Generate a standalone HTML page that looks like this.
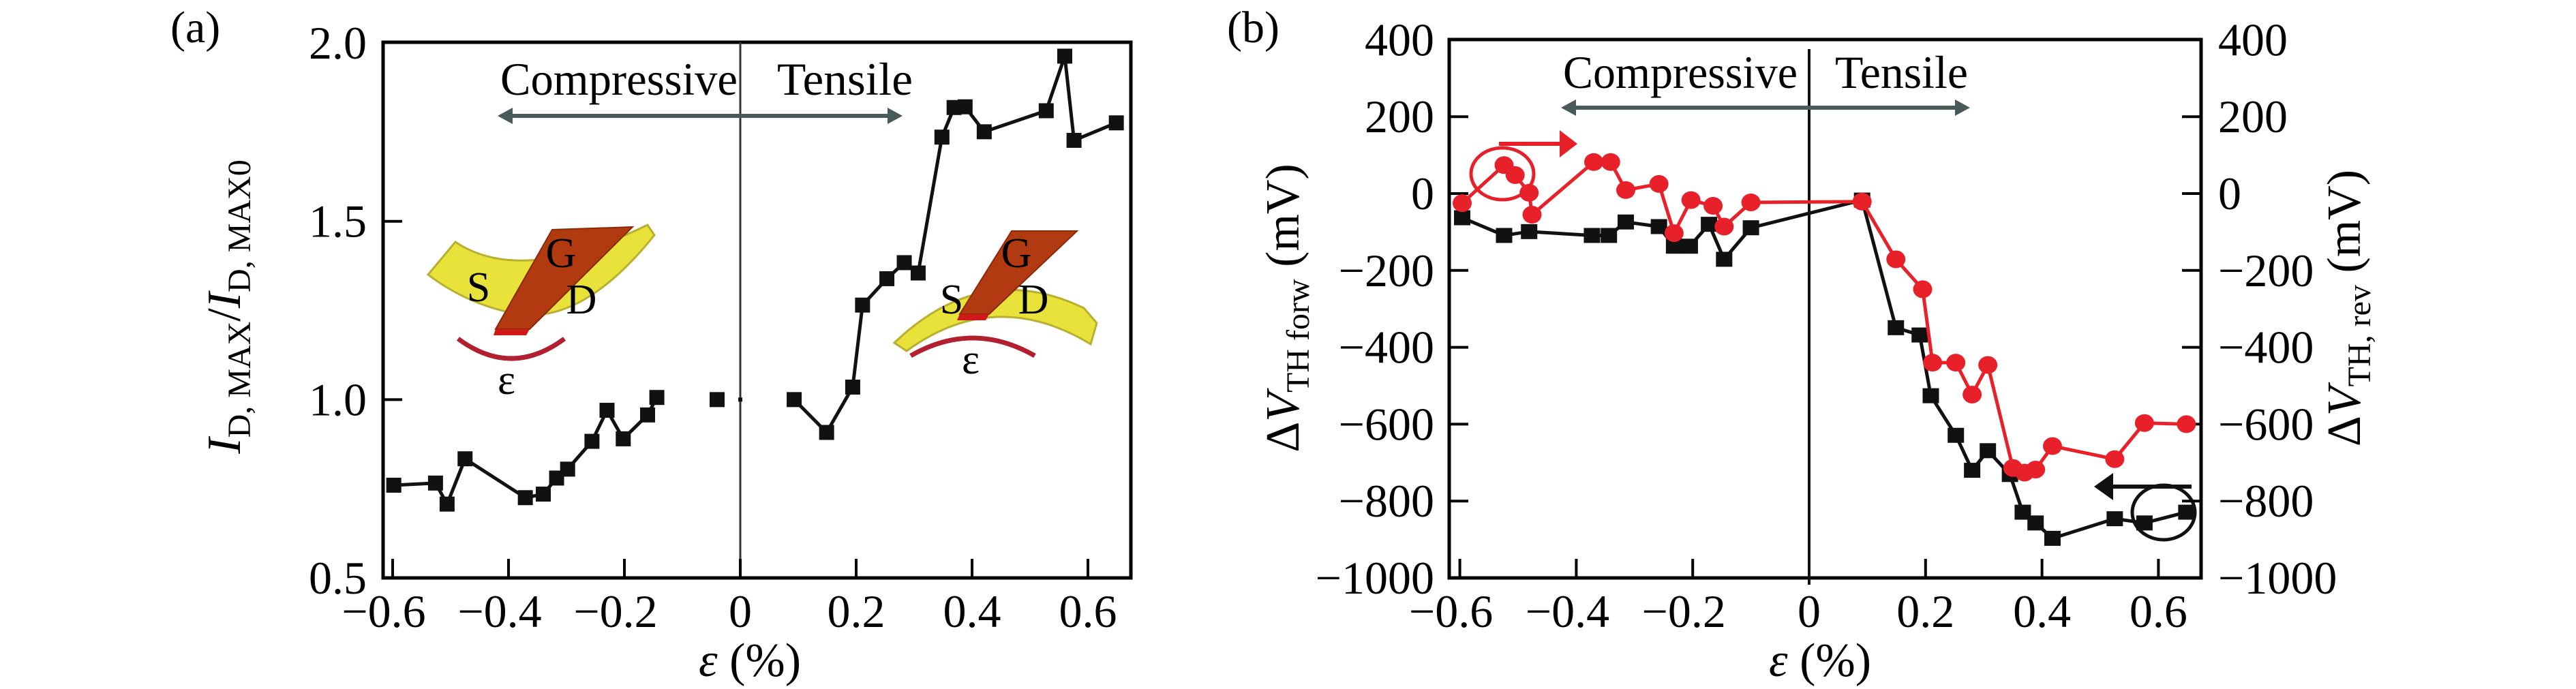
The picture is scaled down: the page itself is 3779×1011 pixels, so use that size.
<!DOCTYPE html>
<html><head><meta charset="utf-8"><style>
html,body{margin:0;padding:0;background:#fff;}
svg{display:block;font-family:"Liberation Serif",serif;}
</style></head><body>
<svg id="fig" width="3779" height="1011" viewBox="0 0 3779 1011" xmlns="http://www.w3.org/2000/svg">
<rect width="3779" height="1011" fill="#fff"/>

<g id="panelA">
<text x="250" y="62" font-size="66">(a)</text>
<g>
<path d="M668,355 Q765,420 950,330 L960,345 Q860,470 767,462 Q690,450 628,403 Z" fill="#e8e23a" stroke="#b8b030" stroke-width="3"/>
<path d="M810,337 L928,333 L777,483 L727,483 Z" fill="#b23a10" stroke="#8a2a08" stroke-width="2"/>
<path d="M727,483 L777,483 L772,492 L724,492 Z" fill="#d01818"/>
<path d="M672,497 Q750,555 828,497" fill="none" stroke="#b22030" stroke-width="7"/>
<text x="702" y="442" font-size="62" text-anchor="middle">S</text>
<text x="823" y="392" font-size="62" text-anchor="middle">G</text>
<text x="853" y="460" font-size="62" text-anchor="middle">D</text>
<text x="743" y="578" font-size="62" text-anchor="middle">ε</text>
</g>
<g>
<path d="M1312,503 Q1440,380 1590,452 L1609,474 L1600,505 Q1460,420 1330,515 Z" fill="#e8e23a" stroke="#b8b030" stroke-width="3"/>
<path d="M1484,339 L1580,339 L1451,461 L1408,461 Z" fill="#b23a10" stroke="#8a2a08" stroke-width="2"/>
<path d="M1408,461 L1451,461 L1446,470 L1404,470 Z" fill="#d01818"/>
<path d="M1336,522 Q1427,470 1518,522" fill="none" stroke="#b22030" stroke-width="7"/>
<text x="1396" y="460" font-size="62" text-anchor="middle">S</text>
<text x="1491" y="392" font-size="62" text-anchor="middle">G</text>
<text x="1516" y="460" font-size="62" text-anchor="middle">D</text>
<text x="1424" y="548" font-size="62" text-anchor="middle">ε</text>
</g>
<rect x="562" y="62" width="1097" height="786" fill="none" stroke="#000" stroke-width="5"/>
<line x1="1086" y1="62" x2="1086" y2="848" stroke="#333" stroke-width="3"/>
<text x="734" y="139" font-size="68" textLength="348" lengthAdjust="spacingAndGlyphs">Compressive</text>
<text x="1140" y="139" font-size="68" textLength="199" lengthAdjust="spacingAndGlyphs">Tensile</text>
<g>
<line x1="745" y1="170" x2="1310" y2="170" stroke="#4a5a5a" stroke-width="6"/>
<path d="M730,170 L752,158 L752,182 Z" fill="#4a5a5a"/>
<path d="M1324,170 L1302,158 L1302,182 Z" fill="#4a5a5a"/>
</g>
<text transform="translate(352,450) rotate(-90)" font-size="70" text-anchor="middle"><tspan font-style="italic">I</tspan><tspan font-size="48" dy="15">D, MAX</tspan><tspan dy="-15">/</tspan><tspan font-style="italic">I</tspan><tspan font-size="48" dy="15">D, MAX0</tspan></text>
<text x="1100" y="992" font-size="70" text-anchor="middle"><tspan font-style="italic">ε</tspan> (%)</text>
</g>
<g id="axesA"></g>
<g id="seriesA"></g>

<g id="panelB">
<text x="1800" y="62" font-size="66">(b)</text>
<rect x="2126" y="58" width="1103" height="790" fill="none" stroke="#000" stroke-width="5"/>
<line x1="2654" y1="72" x2="2654" y2="858" stroke="#111" stroke-width="4"/>
<text x="2293" y="129" font-size="68" textLength="344" lengthAdjust="spacingAndGlyphs">Compressive</text>
<text x="2692" y="129" font-size="68" textLength="195" lengthAdjust="spacingAndGlyphs">Tensile</text>
<g>
<line x1="2305" y1="158" x2="2875" y2="158" stroke="#4a5a5a" stroke-width="6"/>
<path d="M2290,158 L2312,146 L2312,170 Z" fill="#4a5a5a"/>
<path d="M2890,158 L2868,146 L2868,170 Z" fill="#4a5a5a"/>
</g>
<text transform="translate(1905,452) rotate(-90)" font-size="70" text-anchor="middle">Δ<tspan font-style="italic">V</tspan><tspan font-size="48" dy="15">TH forw</tspan><tspan dy="-15"> (mV)</tspan></text>
<text transform="translate(3462,452) rotate(-90)" font-size="70" text-anchor="middle">Δ<tspan font-style="italic">V</tspan><tspan font-size="48" dy="15">TH, rev</tspan><tspan dy="-15"> (mV)</tspan></text>
<text x="2670" y="992" font-size="70" text-anchor="middle"><tspan font-style="italic">ε</tspan> (%)</text>
<g>
<ellipse cx="2204" cy="255" rx="46" ry="38" fill="none" stroke="#e8202a" stroke-width="5"/>
<line x1="2199" y1="211" x2="2292" y2="211" stroke="#e8202a" stroke-width="6"/>
<path d="M2314,211 L2288,191 L2288,231 Z" fill="#e8202a"/>
</g>
<g>
<ellipse cx="3174" cy="752" rx="46" ry="40" fill="none" stroke="#111" stroke-width="5"/>
<line x1="3215" y1="714" x2="3095" y2="714" stroke="#111" stroke-width="6"/>
<path d="M3072,714 L3100,694 L3100,734 Z" fill="#111"/>
</g>
</g>
<g id="axesB"></g>
<g id="seriesB"></g>
</svg>
<script>
const strainA = [-0.598,-0.526,-0.506,-0.475,-0.371,-0.34,-0.317,-0.298,-0.256,-0.23,-0.202,-0.16,-0.144,-0.04,0.0,0.093,0.149,0.194,0.211,0.253,0.283,0.307,0.348,0.369,0.388,0.421,0.528,0.56,0.576,0.649];
const ratioA = [0.76,0.766,0.707,0.834,0.725,0.735,0.78,0.805,0.883,0.97,0.89,0.957,1.006,1.0,1.0,1.0,0.908,1.035,1.265,1.339,1.384,1.355,1.736,1.819,1.821,1.751,1.81,1.963,1.727,1.776];
const segmentA = [0,0,0,0,0,0,0,0,0,0,0,0,0,1,2,3,3,3,3,3,3,3,3,3,3,3,3,3,3,3];
const xTicks = [-0.6,-0.4,-0.2,0,0.2,0.4,0.6];
const xTickLabels = ["−0.6","−0.4","−0.2","0","0.2","0.4","0.6"];
const yTicksA = [0.5,1.0,1.5,2.0];
const yTickLabelsA = ["0.5","1.0","1.5","2.0"];
const strainForw = [-0.596,-0.524,-0.481,-0.373,-0.344,-0.315,-0.258,-0.232,-0.205,-0.172,-0.146,-0.1,0.091,0.149,0.19,0.209,0.252,0.28,0.307,0.345,0.367,0.389,0.418,0.525,0.576,0.648];
const dvForw = [-63,-109,-99,-109,-109,-74,-86,-137,-137,-80,-171,-89,-17,-349,-368,-526,-629,-720,-669,-731,-829,-857,-897,-846,-857,-829];
const strainRev = [-0.596,-0.524,-0.505,-0.481,-0.476,-0.37,-0.341,-0.315,-0.258,-0.232,-0.203,-0.165,-0.146,-0.1,0.091,0.149,0.195,0.212,0.252,0.28,0.307,0.35,0.37,0.389,0.418,0.525,0.576,0.648];
const dvRev = [-25,74,48,2,-55,82,82,9,25,-103,-17,-32,-86,-23,-21,-171,-249,-440,-440,-523,-446,-714,-726,-718,-657,-691,-597,-600];
const yTicksB = [400,200,0,-200,-400,-600,-800,-1000];
const yTickLabelsB = ["400","200","0","−200","−400","−600","−800","−1000"];

const NS="http://www.w3.org/2000/svg";
function mk(tag, attrs, parent){const e=document.createElementNS(NS,tag);for(const k in attrs)e.setAttribute(k,attrs[k]);parent.appendChild(e);return e;}
const xA = v => 1086 + v*850;
const yA = v => 848 - (v-0.5)*523.3;
const xB = v => 2654 + v*854;
const yB = v => 284 - v*0.564;
const FS = 68;

const axA=document.getElementById('axesA');
xTicks.forEach((t,i)=>{
  const l=mk('line',{x1:xA(t),x2:xA(t),y1:848,y2:820,stroke:'#000','stroke-width':4},axA);
  
  
  const tx=mk('text',{x:xA(t)-(t<0?13:0),y:920,'font-size':FS,'text-anchor':'middle'},axA);
  tx.textContent=xTickLabels[i];
  
  
});
yTicksA.forEach((t,i)=>{
  if(t>0.5&&t<2){const l=mk('line',{x1:562,x2:590,y1:yA(t),y2:yA(t),stroke:'#000','stroke-width':4},axA);
  
  }
  const tx=mk('text',{x:538,y:yA(t)+23,'font-size':FS,'text-anchor':'end'},axA);
  tx.textContent=yTickLabelsA[i];
  
  
});
const sA=document.getElementById('seriesA');
for(let i=1;i<strainA.length;i++){
  if(segmentA[i]!==segmentA[i-1])continue;
  const l=mk('line',{x1:xA(strainA[i-1]),y1:yA(ratioA[i-1]),x2:xA(strainA[i]),y2:yA(ratioA[i]),stroke:'#111','stroke-width':5},sA);
  
  
}
strainA.forEach((x,i)=>{
  const s = i===14 ? 6 : 22;
  const r=mk('rect',{x:xA(x)-s/2,y:yA(ratioA[i])-s/2,width:s,height:s,fill:'#111'},sA);
  
  
});

const axB=document.getElementById('axesB');
xTicks.forEach((t,i)=>{
  if(t!==0){const l=mk('line',{x1:xB(t),x2:xB(t),y1:848,y2:820,stroke:'#000','stroke-width':4},axB);
  
  }
  const tx=mk('text',{x:xB(t)-(t<0?13:0),y:920,'font-size':FS,'text-anchor':'middle'},axB);
  tx.textContent=xTickLabels[i];
  
  
});
yTicksB.forEach((t,i)=>{
  if(t<400&&t>-1000){
    const l=mk('line',{x1:2126,x2:2154,y1:yB(t),y2:yB(t),stroke:'#000','stroke-width':4},axB);
    
    
    const l2=mk('line',{x1:3201,x2:3229,y1:yB(t),y2:yB(t),stroke:'#000','stroke-width':4},axB);
    
    
  }
  const tx=mk('text',{x:2104,y:yB(t)+23,'font-size':FS,'text-anchor':'end'},axB);
  tx.textContent=yTickLabelsB[i];
  
  
  const tx2=mk('text',{x:3254,y:yB(t)+23,'font-size':FS},axB);
  tx2.textContent=yTickLabelsB[i];
  
  
});
const sB=document.getElementById('seriesB');
const pf=mk('polyline',{points:strainForw.map((x,i)=>xB(x)+','+yB(dvForw[i])).join(' '),fill:'none',stroke:'#111','stroke-width':5},sB);


strainForw.forEach((x,i)=>{
  const r=mk('rect',{x:xB(x)-12,y:yB(dvForw[i])-11,width:24,height:22,fill:'#111'},sB);
  
  
});
const pr=mk('polyline',{points:strainRev.map((x,i)=>xB(x)+','+yB(dvRev[i])).join(' '),fill:'none',stroke:'#e8202a','stroke-width':5},sB);


strainRev.forEach((x,i)=>{
  const c=mk('ellipse',{cx:xB(x),cy:yB(dvRev[i]),rx:14,ry:13,fill:'#e8202a'},sB);
  
  
});
</script>
</body></html>
